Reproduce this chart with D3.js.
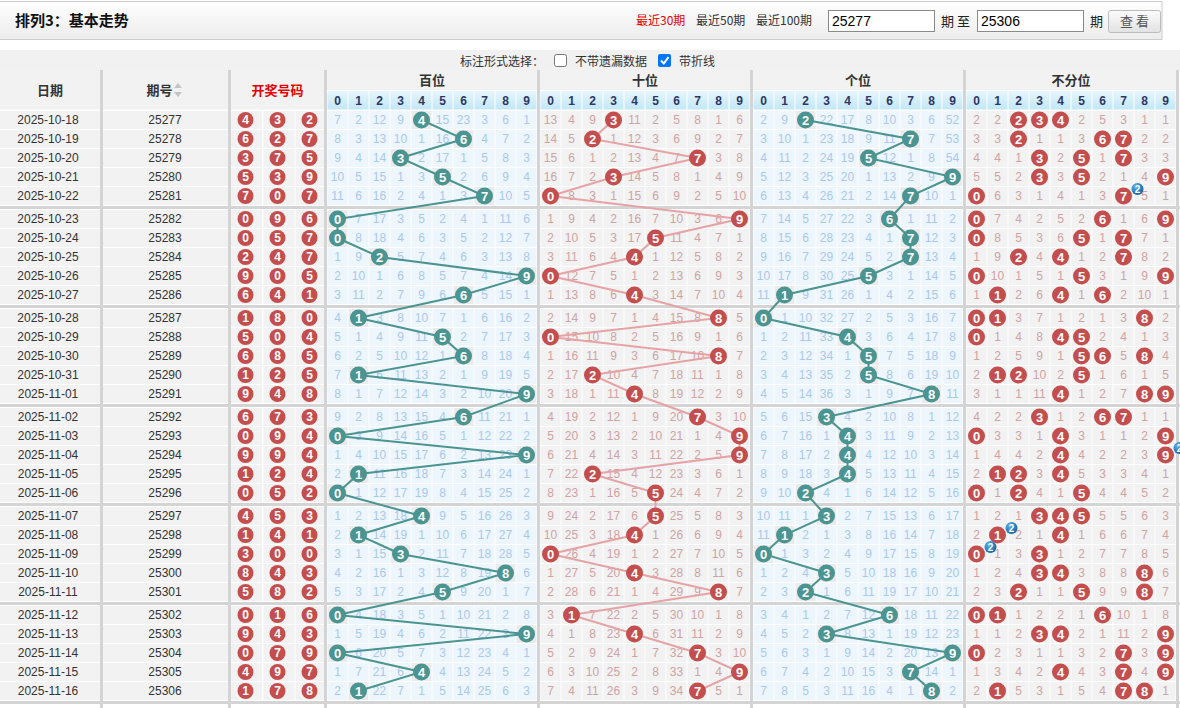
<!DOCTYPE html>
<html>
<head>
<meta charset="utf-8">
<script src="https://cdn.jsdelivr.net/npm/d3@7"></script>
<style>
  body { margin: 0; background: #fff; }
  svg { display: block; }
</style>
</head>
<body>
<svg id="chart" width="1180" height="708"></svg>
<script>
// ---- data ----
const dates = ['2025-10-18','2025-10-19','2025-10-20','2025-10-21','2025-10-22',
  '2025-10-23','2025-10-24','2025-10-25','2025-10-26','2025-10-27',
  '2025-10-28','2025-10-29','2025-10-30','2025-10-31','2025-11-01',
  '2025-11-02','2025-11-03','2025-11-04','2025-11-05','2025-11-06',
  '2025-11-07','2025-11-08','2025-11-09','2025-11-10','2025-11-11',
  '2025-11-12','2025-11-13','2025-11-14','2025-11-15','2025-11-16'];
const periods = ['25277','25278','25279','25280','25281','25282','25283','25284','25285','25286',
  '25287','25288','25289','25290','25291','25292','25293','25294','25295','25296',
  '25297','25298','25299','25300','25301','25302','25303','25304','25305','25306'];
const draws = ['432','627','375','539','707','096','057','247','905','641',
  '180','504','685','125','948','673','094','994','124','052',
  '453','141','300','843','582','016','943','079','497','178'];

const sectionTitles = ['百位', '十位', '个位', '不分位'];
const digits = ['0','1','2','3','4','5','6','7','8','9'];

// omission values per row (0 = hit, drawn as a ball)
const omitBai = ['7 2 12 9 0 15 23 3 6 1','8 3 13 10 1 16 0 4 7 2','9 4 14 0 2 17 1 5 8 3',
  '10 5 15 1 3 0 2 6 9 4','11 6 16 2 4 1 3 0 10 5','0 7 17 3 5 2 4 1 11 6','0 8 18 4 6 3 5 2 12 7',
  '1 9 0 5 7 4 6 3 13 8','2 10 1 6 8 5 7 4 14 0','3 11 2 7 9 6 0 5 15 1','4 0 3 8 10 7 1 6 16 2',
  '5 1 4 9 11 0 2 7 17 3','6 2 5 10 12 1 0 8 18 4','7 0 6 11 13 2 1 9 19 5','8 1 7 12 14 3 2 10 20 0',
  '9 2 8 13 15 4 0 11 21 1','0 3 9 14 16 5 1 12 22 2','1 4 10 15 17 6 2 13 23 0','2 0 11 16 18 7 3 14 24 1',
  '0 1 12 17 19 8 4 15 25 2','1 2 13 18 0 9 5 16 26 3','2 0 14 19 1 10 6 17 27 4','3 1 15 0 2 11 7 18 28 5',
  '4 2 16 1 3 12 8 19 0 6','5 3 17 2 4 0 9 20 1 7','0 4 18 3 5 1 10 21 2 8','1 5 19 4 6 2 11 22 3 0',
  '0 6 20 5 7 3 12 23 4 1','1 7 21 6 0 4 13 24 5 2','2 0 22 7 1 5 14 25 6 3'];
const omitShi = ['13 4 9 0 11 2 5 8 1 6','14 5 0 1 12 3 6 9 2 7','15 6 1 2 13 4 7 0 3 8',
  '16 7 2 0 14 5 8 1 4 9','0 8 3 1 15 6 9 2 5 10','1 9 4 2 16 7 10 3 6 0','2 10 5 3 17 0 11 4 7 1',
  '3 11 6 4 0 1 12 5 8 2','0 12 7 5 1 2 13 6 9 3','1 13 8 6 0 3 14 7 10 4','2 14 9 7 1 4 15 8 0 5',
  '0 15 10 8 2 5 16 9 1 6','1 16 11 9 3 6 17 10 0 7','2 17 0 10 4 7 18 11 1 8','3 18 1 11 0 8 19 12 2 9',
  '4 19 2 12 1 9 20 0 3 10','5 20 3 13 2 10 21 1 4 0','6 21 4 14 3 11 22 2 5 0','7 22 0 15 4 12 23 3 6 1',
  '8 23 1 16 5 0 24 4 7 2','9 24 2 17 6 0 25 5 8 3','10 25 3 18 0 1 26 6 9 4','0 26 4 19 1 2 27 7 10 5',
  '1 27 5 20 0 3 28 8 11 6','2 28 6 21 1 4 29 9 0 7','3 0 7 22 2 5 30 10 1 8','4 1 8 23 0 6 31 11 2 9',
  '5 2 9 24 1 7 32 0 3 10','6 3 10 25 2 8 33 1 4 0','7 4 11 26 3 9 34 0 5 1'];
const omitGe = ['2 9 0 22 17 8 10 3 6 52','3 10 1 23 18 9 11 0 7 53','4 11 2 24 19 0 12 1 8 54',
  '5 12 3 25 20 1 13 2 9 0','6 13 4 26 21 2 14 0 10 1','7 14 5 27 22 3 0 1 11 2','8 15 6 28 23 4 1 0 12 3',
  '9 16 7 29 24 5 2 0 13 4','10 17 8 30 25 0 3 1 14 5','11 0 9 31 26 1 4 2 15 6','0 1 10 32 27 2 5 3 16 7',
  '1 2 11 33 0 3 6 4 17 8','2 3 12 34 1 0 7 5 18 9','3 4 13 35 2 0 8 6 19 10','4 5 14 36 3 1 9 7 0 11',
  '5 6 15 0 4 2 10 8 1 12','6 7 16 1 0 3 11 9 2 13','7 8 17 2 0 4 12 10 3 14','8 9 18 3 0 5 13 11 4 15',
  '9 10 0 4 1 6 14 12 5 16','10 11 1 0 2 7 15 13 6 17','11 0 2 1 3 8 16 14 7 18','0 1 3 2 4 9 17 15 8 19',
  '1 2 4 0 5 10 18 16 9 20','2 3 0 1 6 11 19 17 10 21','3 4 1 2 7 12 0 18 11 22','4 5 2 0 8 13 1 19 12 23',
  '5 6 3 1 9 14 2 20 13 0','6 7 4 2 10 15 3 0 14 1','7 8 5 3 11 16 4 1 0 2'];
const omitAll = ['2 2 0 0 0 2 5 3 1 1','3 3 0 1 1 3 0 0 2 2','4 4 1 0 2 0 1 0 3 3',
  '5 5 2 0 3 0 2 1 4 0','0 6 3 1 4 1 3 0 5 1','0 7 4 2 5 2 0 1 6 0','0 8 5 3 6 0 1 0 7 1',
  '1 9 0 4 0 1 2 0 8 2','0 10 1 5 1 0 3 1 9 0','1 0 2 6 0 1 0 2 10 1','0 0 3 7 1 2 1 3 0 2',
  '0 1 4 8 0 0 2 4 1 3','1 2 5 9 1 0 0 5 0 4','2 0 0 10 2 0 1 6 1 5','3 1 1 11 0 1 2 7 0 0',
  '4 2 2 0 1 2 0 0 1 1','0 3 3 1 0 3 1 1 2 0','1 4 4 2 0 4 2 2 3 0','2 0 0 3 0 5 3 3 4 1',
  '0 1 0 4 1 0 4 4 5 2','1 2 1 0 0 0 5 5 6 3','2 0 2 1 0 1 6 6 7 4','0 1 3 0 1 2 7 7 8 5',
  '1 2 4 0 0 3 8 8 0 6','2 3 0 1 1 0 9 9 0 7','0 0 1 2 2 1 0 10 1 8','1 1 2 0 0 2 1 11 2 0',
  '0 2 3 1 1 3 2 0 3 0','1 3 4 2 0 4 3 0 4 0','2 0 5 3 1 5 4 0 0 1'];

// ---- styles ----
const CJK = '"Noto Sans CJK SC", sans-serif';
const NUM = '"Liberation Sans", Arial, sans-serif';
const teal = '#4a9491', red = '#c44e4e';
const sepGray = '#d4d4d4';
const sections = [
  { omit: omitBai, bg: '#eef6fd', text: '#a9c8ee', ball: teal, line: teal, pos: 0 },
  { omit: omitShi, bg: '#f2f2f2', text: '#cfa3a3', ball: red, line: '#e6a3a5', pos: 1 },
  { omit: omitGe,  bg: '#eef6fd', text: '#a9c8ee', ball: teal, line: teal, pos: 2 },
  { omit: omitAll, bg: '#f2f2f2', text: '#cfa3a3', ball: red, line: null, pos: null }
];

const svg = d3.select('#chart');
const defs = svg.append('defs');

function vGrad(id, stops) {
  const g = defs.append('linearGradient').attr('id', id)
    .attr('x1', 0).attr('y1', 0).attr('x2', 0).attr('y2', 1);
  stops.forEach(([o, c]) => g.append('stop').attr('offset', o).attr('stop-color', c));
}
vGrad('headGrad', [[0, '#ffffff'], [1, '#ececec']]);
vGrad('digitGrad', [[0, '#e6f6fd'], [1, '#c3e7f7']]);
vGrad('btnGrad', [[0, '#fbfbfb'], [1, '#e2e2e2']]);
const bg = defs.append('radialGradient').attr('id', 'badgeGrad')
  .attr('cx', 0.35).attr('cy', 0.3).attr('r', 0.75);
bg.append('stop').attr('offset', 0).attr('stop-color', '#5fb4ec');
bg.append('stop').attr('offset', 1).attr('stop-color', '#0f5f9e');

// ---- top bar ----
svg.append('rect').attr('x', -1).attr('y', 1.5).attr('width', 1163).attr('height', 38)
  .attr('fill', 'url(#headGrad)').attr('stroke', '#cccccc');
svg.append('text').attr('x', 15).attr('y', 26).text('排列3：基本走势')
  .attr('font-family', CJK).attr('font-size', 15).attr('font-weight', 'bold').attr('fill', '#111');

const links = [['最近30期', 636, '#e60000'], ['最近50期', 696, '#333'], ['最近100期', 756, '#333']];
svg.selectAll('.lnk').data(links).join('text').attr('class', 'lnk')
  .attr('x', d => d[1]).attr('y', 25).text(d => d[0]).attr('fill', d => d[2])
  .attr('font-family', CJK).attr('font-size', 12);

const inputs = [[828.5, 106, '25277'], [977.5, 106, '25306']];
inputs.forEach(([x, w, t]) => {
  svg.append('rect').attr('x', x).attr('y', 10.5).attr('width', w).attr('height', 21)
    .attr('fill', '#fff').attr('stroke', '#8a8a8a');
  svg.append('text').attr('x', x + 3.5).attr('y', 26).text(t)
    .attr('font-family', NUM).attr('font-size', 14).attr('fill', '#000');
});
svg.append('text').attr('x', 941).attr('y', 26).text('期 至')
  .attr('font-family', CJK).attr('font-size', 13).attr('fill', '#222');
svg.append('text').attr('x', 1090).attr('y', 26).text('期')
  .attr('font-family', CJK).attr('font-size', 13).attr('fill', '#222');
svg.append('rect').attr('x', 1108.5).attr('y', 10.5).attr('width', 52).attr('height', 22).attr('rx', 2)
  .attr('fill', 'url(#btnGrad)').attr('stroke', '#bdbdbd');
svg.append('text').attr('x', 1134.5).attr('y', 26).attr('text-anchor', 'middle').text('查 看')
  .attr('font-family', CJK).attr('font-size', 13).attr('fill', '#555');

// ---- option band ----
svg.append('rect').attr('x', 0).attr('y', 50).attr('width', 1180).attr('height', 20).attr('fill', '#f1f1f1');
const opt = (x, t) => svg.append('text').attr('x', x).attr('y', 66).text(t)
  .attr('font-family', CJK).attr('font-size', 12).attr('fill', '#333');
opt(460, '标注形式选择：');
opt(575, '不带遗漏数据');
opt(679, '带折线');
svg.append('rect').attr('x', 554.5).attr('y', 54.5).attr('width', 12).attr('height', 12).attr('rx', 2)
  .attr('fill', '#fff').attr('stroke', '#767676');
svg.append('rect').attr('x', 658).attr('y', 54).attr('width', 13).attr('height', 13).attr('rx', 2)
  .attr('fill', '#0075ff');
svg.append('path').attr('d', 'M661,60.5 L663.8,63.5 L668.5,57.2').attr('fill', 'none')
  .attr('stroke', '#fff').attr('stroke-width', 2);

// ---- scales ----
const nRows = periods.length;
const groupY = d3.scaleBand().domain(d3.range(nRows / 5)).range([110.5, 110.5 + 99 * nRows / 5]);
const rowY = d3.scaleBand().domain(d3.range(5)).range([0, 95]);
const rowTop = i => groupY(Math.floor(i / 5)) + rowY(i % 5);
const rowMid = i => rowTop(i) + rowY.bandwidth() / 2;

const secX = sections.map((s, k) => d3.scaleBand().domain(digits).range([327 + k * 213, 537 + k * 213]));
const ballX = d3.scaleBand().domain(d3.range(3)).range([231, 327]);

const tableBottom = groupY(nRows / 5 - 1) + 99;

// ---- table header ----
const leftCols = [
  { x: 0, w: 100, label: '日期', color: '#333' },
  { x: 103, w: 125, label: '期号', color: '#333' },
  { x: 231, w: 93, label: '开奖号码', color: '#e60000' }
];
leftCols.forEach(c => {
  svg.append('rect').attr('x', c.x).attr('y', 70).attr('width', c.w).attr('height', 39.5).attr('fill', '#f2f2f2');
  svg.append('text').attr('x', c.x + c.w / 2 - (c.label === '期号' ? 6 : 0)).attr('y', 95)
    .attr('text-anchor', 'middle').text(c.label)
    .attr('font-family', CJK).attr('font-size', 13).attr('font-weight', 'bold').attr('fill', c.color);
});
// sort arrows beside 期号
svg.append('path').attr('d', 'M174,88 L178,83 L182,88 Z M174,92 L178,97 L182,92 Z').attr('fill', '#c4c4c4');

sections.forEach((s, k) => {
  const x = secX[k];
  svg.append('rect').attr('x', x.range()[0]).attr('y', 70).attr('width', 210).attr('height', 20).attr('fill', '#f2f2f2');
  svg.append('text').attr('x', x.range()[0] + 105).attr('y', 85).attr('text-anchor', 'middle')
    .text(sectionTitles[k]).attr('font-family', CJK).attr('font-size', 13)
    .attr('font-weight', 'bold').attr('fill', '#333');
  const g = svg.append('g');
  g.selectAll('rect').data(digits).join('rect')
    .attr('x', d => x(d) + 0.5).attr('y', 91).attr('width', x.bandwidth() - 1).attr('height', 18.5)
    .attr('fill', 'url(#digitGrad)');
  g.selectAll('text').data(digits).join('text')
    .attr('x', d => x(d) + x.bandwidth() / 2).attr('y', 104.5).attr('text-anchor', 'middle')
    .text(d => d).attr('font-family', NUM).attr('font-size', 12).attr('font-weight', 'bold')
    .attr('fill', '#2e3766');
});

// ---- left columns ----
const rows = d3.range(nRows);
const left = svg.append('g');
left.selectAll('.cd').data(rows).join('rect').attr('class', 'cd')
  .attr('x', 0).attr('y', i => rowTop(i) + 0.5).attr('width', 100).attr('height', 18).attr('fill', '#f2f2f2');
left.selectAll('.cp').data(rows).join('rect').attr('class', 'cp')
  .attr('x', 103).attr('y', i => rowTop(i) + 0.5).attr('width', 125).attr('height', 18).attr('fill', '#f2f2f2');
rows.forEach(i => {
  d3.range(3).forEach(j => {
    left.append('rect').attr('x', ballX(j) + (j ? 0.5 : 0)).attr('y', rowTop(i) + 0.5)
      .attr('width', ballX.bandwidth() - (j === 2 ? 3 : 1)).attr('height', 18).attr('fill', '#f2f2f2');
  });
});
left.selectAll('.td').data(rows).join('text').attr('class', 'td')
  .attr('x', 48).attr('y', i => rowMid(i)).attr('dy', '0.36em').attr('text-anchor', 'middle')
  .text(i => dates[i]).attr('font-family', NUM).attr('font-size', 12).attr('fill', '#333');
left.selectAll('.tp').data(rows).join('text').attr('class', 'tp')
  .attr('x', 165).attr('y', i => rowMid(i)).attr('dy', '0.36em').attr('text-anchor', 'middle')
  .text(i => periods[i]).attr('font-family', NUM).attr('font-size', 12).attr('fill', '#333');

const drawBalls = rows.flatMap(i => draws[i].split('').map((d, j) => ({ i, j, d })));
const wb = left.selectAll('.wb').data(drawBalls).join('g').attr('class', 'wb')
  .attr('transform', b => `translate(${ballX(b.j) + ballX.bandwidth() / 2 - 1.5},${rowMid(b.i)})`);
wb.append('circle').attr('r', 8).attr('fill', red);
wb.append('text').attr('dy', '0.36em').attr('text-anchor', 'middle').text(b => b.d)
  .attr('font-family', NUM).attr('font-size', 12).attr('font-weight', 'bold').attr('fill', '#fff');

// ---- digit sections: cells and omission numbers ----
const hitOf = (s, i) => s.pos === null ? draws[i] : draws[i][s.pos];
sections.forEach((s, k) => {
  const x = secX[k];
  s.cells = rows.flatMap(i => {
    const vals = s.omit[i].split(' ');
    return digits.map((d, c) => ({ i, d, v: vals[c], hit: hitOf(s, i).includes(d) }));
  });
  const g = svg.append('g');
  g.selectAll('rect').data(s.cells).join('rect')
    .attr('x', c => x(c.d) + 0.5).attr('y', c => rowTop(c.i) + 0.5)
    .attr('width', x.bandwidth() - 1).attr('height', 18)
    .attr('fill', c => (c.hit && s.line === teal) ? '#ebebeb' : s.bg);
  g.selectAll('text').data(s.cells.filter(c => !c.hit)).join('text')
    .attr('x', c => x(c.d) + x.bandwidth() / 2).attr('y', c => rowMid(c.i)).attr('dy', '0.36em')
    .attr('text-anchor', 'middle').text(c => c.v)
    .attr('font-family', NUM).attr('font-size', 12).attr('fill', s.text);
});

// ---- separators ----
[100, 228, 324, 537, 750, 963, 1176].forEach(x => {
  svg.append('rect').attr('x', x).attr('y', 70).attr('width', 3).attr('height', tableBottom - 70 + 8)
    .attr('fill', sepGray);
});
d3.range(nRows / 5).forEach(g => {
  svg.append('rect').attr('x', 0).attr('y', groupY(g) + 95.5).attr('width', 1180).attr('height', 3)
    .attr('fill', sepGray);
});

// ---- trend lines and balls ----
sections.forEach((s, k) => {
  const x = secX[k];
  const g = svg.append('g');
  if (s.line) {
    const line = d3.line().x(i => x(hitOf(s, i)) + x.bandwidth() / 2).y(i => rowMid(i));
    g.append('path').attr('d', line(rows)).attr('fill', 'none')
      .attr('stroke', s.line).attr('stroke-width', 2);
  }
  const balls = s.cells.filter(c => c.hit).map(c => ({ ...c, n: hitOf(s, c.i).split(c.d).length - 1 }));
  const bb = g.selectAll('.ball').data(balls).join('g').attr('class', 'ball')
    .attr('transform', c => `translate(${x(c.d) + x.bandwidth() / 2},${rowMid(c.i)})`);
  bb.append('circle').attr('r', 8.5).attr('fill', s.ball);
  bb.append('text').attr('dy', '0.36em').attr('text-anchor', 'middle').text(c => c.d)
    .attr('font-family', NUM).attr('font-size', 13).attr('font-weight', 'bold').attr('fill', '#fff');
  const badges = bb.filter(c => c.n > 1).append('g').attr('transform', 'translate(14,-7)');
  badges.append('circle').attr('r', 6).attr('fill', 'url(#badgeGrad)');
  badges.append('text').attr('dy', '0.36em').attr('text-anchor', 'middle').text(c => c.n)
    .attr('font-family', NUM).attr('font-size', 10).attr('font-weight', 'bold').attr('fill', '#fff');
});
</script>
</body>
</html>
